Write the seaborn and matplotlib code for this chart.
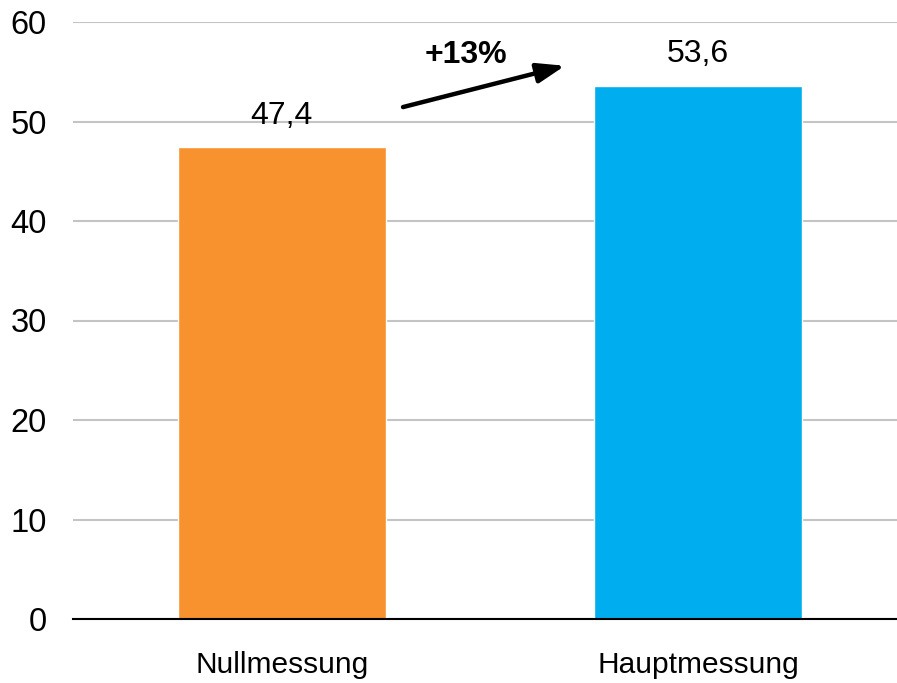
import matplotlib
matplotlib.use("Agg")
import matplotlib.pyplot as plt
import seaborn as sns
import pandas as pd

# Messwerte
categories = ["Nullmessung", "Hauptmessung"]
values = [47.4, 53.6]
bar_colors = ["#F7922F", "#00AEEF"]
change_label = "+13%"
y_ticks = [0, 10, 20, 30, 40, 50, 60]

sns.set_theme(style="white")
plt.rcParams["font.family"] = ["Liberation Sans", "DejaVu Sans"]

df = pd.DataFrame({"Messung": categories, "Wert": values})

fig = plt.figure(figsize=(8.97, 6.83), dpi=100)
ax = fig.add_axes([73 / 897, 64 / 683, 824 / 897, 597 / 683])

sns.barplot(data=df, x="Messung", y="Wert", hue="Messung",
            palette=bar_colors, width=0.5, legend=False, ax=ax,
            saturation=1, zorder=3)

ax.set_ylim(0, 60)
ax.set_xlim(-0.502, 1.478)
ax.set_yticks(y_ticks)
ax.yaxis.grid(True, color="#c4c4c4", linewidth=1.5, zorder=0)
ax.xaxis.grid(False)
for s in ["top", "right", "left"]:
    ax.spines[s].set_visible(False)
ax.spines["bottom"].set_color("black")
ax.spines["bottom"].set_linewidth(1.5)
ax.spines["bottom"].set_zorder(4)
ax.tick_params(axis="y", length=0, pad=19, labelsize=23.5, labelcolor="black")
ax.tick_params(axis="x", length=0, pad=23, labelsize=21.5, labelcolor="black")
ax.set_xlabel("")
ax.set_ylabel("")

# Wertebeschriftungen mit Dezimalkomma
for i, v in enumerate(values):
    ax.annotate(f"{v:.1f}".replace(".", ","), (i, v), xytext=(0, 12),
                textcoords="offset points", ha="center", va="bottom",
                fontsize=23, color="black")

# Veränderungspfeil
ax.annotate("", xy=(0.680, 55.6), xytext=(0.291, 51.45),
            arrowprops=dict(arrowstyle="-|>,head_length=1.4,head_width=0.5",
                            color="black", lw=3.2, shrinkA=0, shrinkB=0))
ax.text(0.442, 56.7, change_label, ha="center", va="center",
        fontsize=23, fontweight="bold", color="black")

fig.savefig("out.png", dpi=100)
